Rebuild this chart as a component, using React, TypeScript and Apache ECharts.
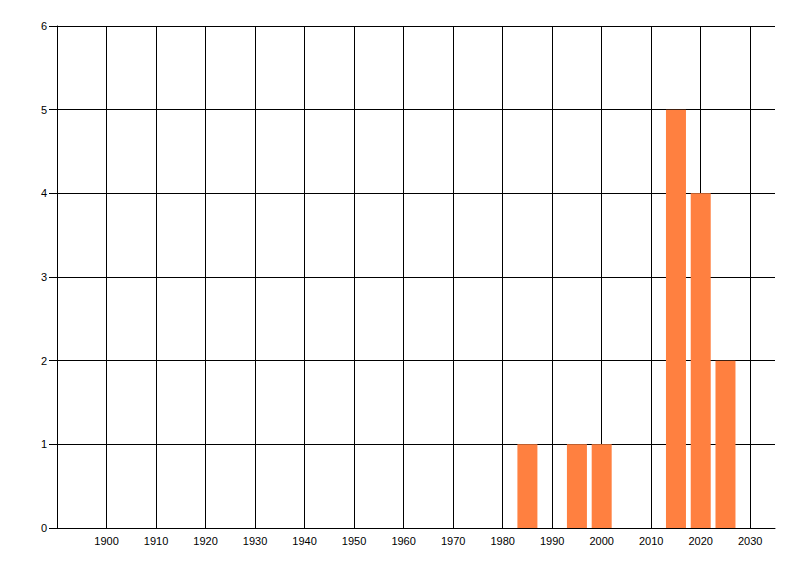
import React, { useEffect, useRef } from "react";
import * as echarts from "echarts";

const years = [1985, 1995, 2000, 2015, 2020, 2025];
const counts = [1, 1, 1, 5, 4, 2];
const xMin = 1890;
const xMax = 2035;
const yMax = 6;

export default function App() {
  const ref = useRef<HTMLDivElement>(null);
  useEffect(() => {
    if (!ref.current) return;
    const chart = echarts.init(ref.current, null, { renderer: "svg" });
    const font = { fontFamily: "Liberation Sans", fontSize: 11, color: "#000" };
    chart.setOption({
      animation: false,
      backgroundColor: "#fff",
      grid: { left: 57, right: 25, top: 26, bottom: 48, containLabel: false },
      xAxis: {
        type: "value",
        min: xMin,
        max: xMax,
        interval: 10,
        axisLine: { show: true, onZero: false, lineStyle: { color: "#000", width: 1 } },
        axisTick: { show: false },
        axisLabel: {
          ...font,
          margin: 7,
          showMinLabel: false,
          showMaxLabel: false,
          formatter: (v: number) => (v === xMin || v === xMax ? "" : String(v)),
        },
        splitLine: {
          show: true,
          showMinLine: false,
          showMaxLine: false,
          lineStyle: { color: "#000", width: 1 },
        },
      },
      yAxis: {
        type: "value",
        min: 0,
        max: yMax,
        interval: 1,
        axisLine: { show: true, lineStyle: { color: "#000", width: 1 } },
        axisTick: { show: true, length: 8, lineStyle: { color: "#000", width: 1 } },
        axisLabel: { ...font, margin: 10 },
        splitLine: { show: true, lineStyle: { color: "#000", width: 1 } },
      },
      series: [
        {
          type: "bar",
          data: years.map((y, i) => [y, counts[i]]),
          barWidth: 20,
          itemStyle: { color: "#FF8040" },
        },
      ],
    });
    return () => chart.dispose();
  }, []);
  return <div ref={ref} style={{ width: 800, height: 576, margin: -8 }} />;
}
